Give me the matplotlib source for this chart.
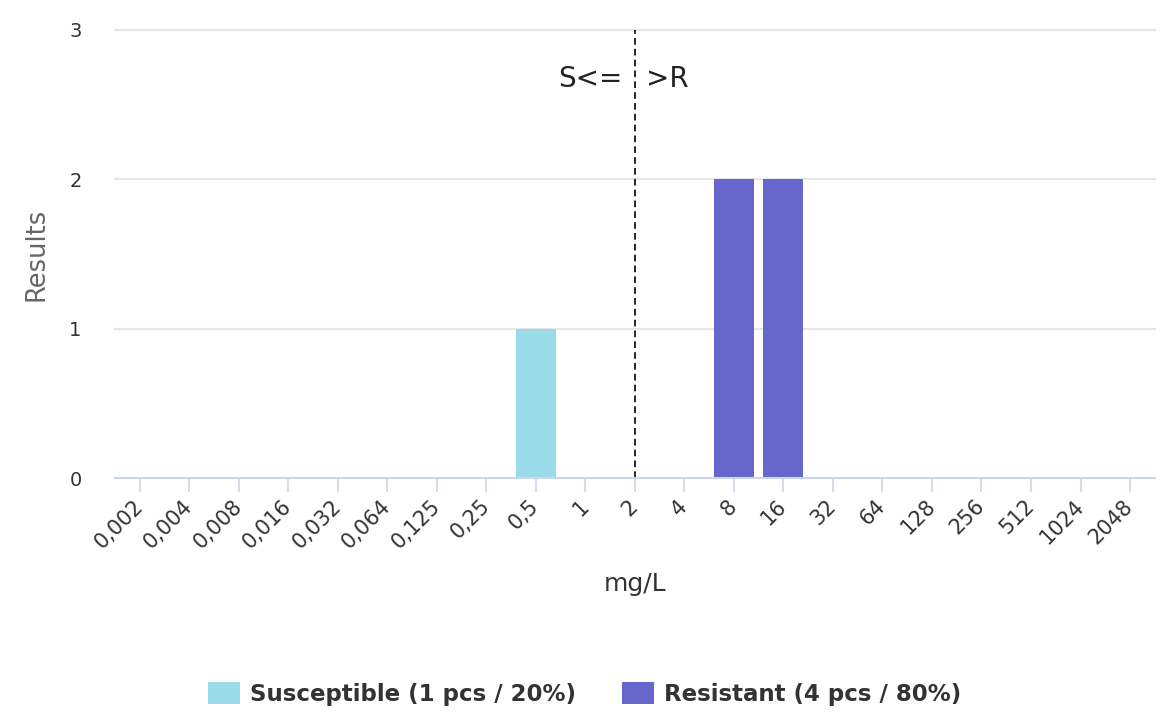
import numpy as np
import matplotlib.pyplot as plt


CATEGORIES = ["0,002", "0,004", "0,008", "0,016", "0,032", "0,064", "0,125", "0,25",
              "0,5", "1", "2", "4", "8", "16", "32", "64", "128", "256", "512",
              "1024", "2048"]
SUSCEPTIBLE = [0, 0, 0, 0, 0, 0, 0, 0, 1, 0, 0, 0, 0, 0, 0, 0, 0, 0, 0, 0, 0]
RESISTANT = [0, 0, 0, 0, 0, 0, 0, 0, 0, 0, 0, 0, 2, 2, 0, 0, 0, 0, 0, 0, 0]
BREAKPOINT = "2"

S_LABEL = "Susceptible (1 pcs / 20%)"
R_LABEL = "Resistant (4 pcs / 80%)"

S_COLOR = "#9adbea"
R_COLOR = "#6666cc"
AXIS_COLOR = "#ccd6eb"
GRID_COLOR = "#e6e6e6"


def main():
    plt.rcParams['font.family'] = ['DejaVu Sans']

    fig = plt.figure(figsize=(11.7, 7.17), dpi=100)
    ax = fig.add_axes([0.0983, 0.3333, 0.8887, 0.6249])

    x = np.arange(len(CATEGORIES))
    ax.bar(x, SUSCEPTIBLE, width=0.81, color=S_COLOR, label=S_LABEL, zorder=3)
    ax.bar(x, RESISTANT, width=0.81, color=R_COLOR, label=R_LABEL, zorder=3)

    bp = CATEGORIES.index(BREAKPOINT)
    ax.axvline(bp, color="black", linestyle=(0, (4, 2.5)), linewidth=1.2, zorder=4)
    ax.text(bp - 0.25, 2.67, "S<=", ha="right", va="center", fontsize=20, color="#222222")
    ax.text(bp + 0.22, 2.67, ">R", ha="left", va="center", fontsize=20, color="#222222")

    ax.set_xlim(-0.5, len(CATEGORIES) - 0.5)
    ax.set_ylim(0, 3)
    ax.set_yticks([0, 1, 2, 3])
    ax.set_xticks(x)
    ax.set_xticklabels(CATEGORIES, rotation=45, ha="right", va="center",
                       rotation_mode="anchor", fontsize=15, color="#333333")
    ax.tick_params(axis="x", length=10, width=1.2, color=AXIS_COLOR, pad=8)
    ax.tick_params(axis="y", length=0, labelsize=14, labelcolor="#333333", pad=24)

    for y in [1, 2, 3]:
        ax.axhline(y, color=GRID_COLOR, linewidth=1.5, zorder=1, clip_on=False)

    for side in ["top", "right", "left"]:
        ax.spines[side].set_visible(False)
    ax.spines["bottom"].set_color(AXIS_COLOR)
    ax.spines["bottom"].set_linewidth(1.5)
    ax.spines["bottom"].set_zorder(5)

    ax.set_ylabel("Results", fontsize=18.5, color="#666666", labelpad=14)
    ax.set_xlabel("mg/L", fontsize=18, color="#333333", labelpad=14)

    fig.legend(loc="center", bbox_to_anchor=(0.4996, 0.032), ncol=2, frameon=False,
               prop={"weight": "bold", "size": 16.5},
               handlelength=1.4, handleheight=1.05, columnspacing=2.0,
               handletextpad=0.45, labelcolor="#333333")

    fig.savefig("out.png", dpi=100)


if __name__ == '__main__':
    main()
